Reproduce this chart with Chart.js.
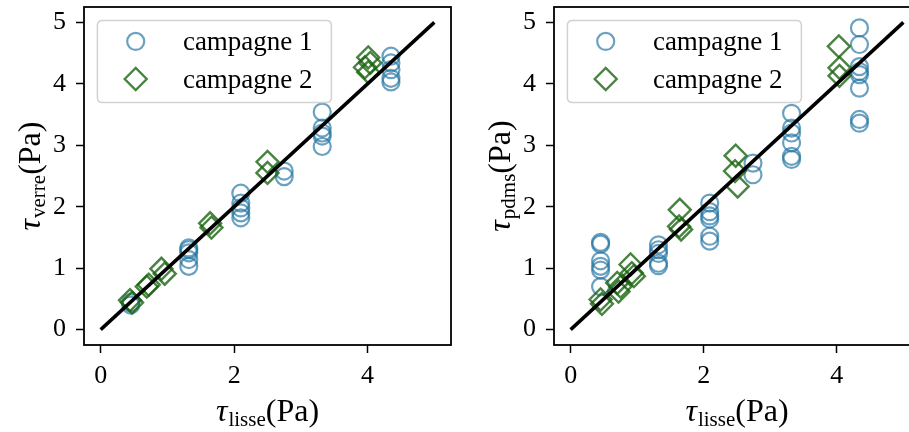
<!DOCTYPE html>
<html><head><meta charset="utf-8">
<script src="https://cdn.jsdelivr.net/npm/chart.js@4"></script>
<style>
html,body{margin:0;padding:0;width:909px;height:432px;overflow:hidden;background:#fff;}
#c1{position:absolute;left:0;top:0;}
#c2{position:absolute;left:460px;top:0;}
</style></head><body>
<canvas id="c1" width="460" height="432"></canvas>
<canvas id="c2" width="460" height="432"></canvas>
<script>
// ---- data ----
const xTicks = [0, 2, 4];
const yTicks = [0, 1, 2, 3, 4, 5];
const seriesNames = ['campagne 1', 'campagne 2'];
const refLineX = [0, 5];
const refLineY = [0, 5];

// left panel: tau_verre vs tau_lisse
const verreC1X = [0.45,0.45, 1.32,1.32,1.32,1.32,1.32, 2.10,2.10,2.10,2.10,2.10, 2.75,2.75, 3.32,3.32,3.32,3.32,3.32, 4.35,4.35,4.35,4.35,4.35];
const verreC1Y = [0.40,0.44, 1.33,1.30,1.25,1.14,1.03, 2.22,2.06,1.98,1.90,1.82, 2.58,2.49, 3.54,3.28,3.20,3.15,2.98, 4.45,4.34,4.23,4.09,4.03];
const verreC2X = [0.44,0.47, 0.69,0.72, 0.91,0.96, 1.64,1.66, 2.50,2.50, 4.01,4.04,3.96,4.01];
const verreC2Y = [0.48,0.44, 0.70,0.73, 0.99,0.91, 1.73,1.66, 2.73,2.55, 4.43,4.34,4.27,4.19];

// right panel: tau_pdms vs tau_lisse
const pdmsC1X = [0.45,0.45,0.45,0.45,0.45,0.45, 1.32,1.32,1.32,1.32,1.32, 2.09,2.09,2.09,2.09,2.09,2.09, 2.74,2.74, 3.32,3.32,3.32,3.32,3.32,3.32, 4.34,4.34,4.34,4.34,4.34,4.34,4.34,4.34];
const pdmsC1Y = [1.42,1.39,1.12,1.03,0.97,0.70, 1.38,1.30,1.24,1.08,1.04, 2.06,1.92,1.85,1.80,1.52,1.44, 2.71,2.52, 3.52,3.28,3.20,3.04,2.82,2.77, 4.91,4.64,4.28,4.20,4.15,3.93,3.42,3.36];
const pdmsC2X = [0.45,0.47, 0.70,0.72,0.75, 0.90,0.92,0.95, 1.64,1.63,1.66, 2.48,2.47,2.51, 4.03,4.04,4.04];
const pdmsC2Y = [0.49,0.42, 0.76,0.62,0.70, 1.06,0.92,0.87, 1.95,1.68,1.63, 2.83,2.58,2.33, 4.61,4.26,4.13];

// ---- styling ----
const C1 = 'rgba(36,117,162,0.68)';
const C2 = 'rgba(28,100,18,0.8)';
const TICKFONT = {family: '"Liberation Serif", serif', size: 26};

const pts = (xs, ys) => xs.map((x, i) => ({x: x, y: ys[i]}));

function mathLabel(ctx, cx, baseline, sub) {
  const it = 'italic 32px "Liberation Serif"', big = '32px "Liberation Serif"', small = '21px "Liberation Serif"';
  ctx.font = it; const w1 = ctx.measureText('τ').width + 1;
  ctx.font = small; const w2 = ctx.measureText(sub).width;
  ctx.font = big; const w3 = ctx.measureText('(Pa)').width;
  let x = cx - (w1 + w2 + w3) / 2;
  ctx.textAlign = 'left'; ctx.textBaseline = 'alphabetic'; ctx.fillStyle = '#000';
  ctx.font = it; ctx.fillText('τ', x, baseline); x += w1;
  ctx.font = small; ctx.fillText(sub, x, baseline + 5); x += w2;
  ctx.font = big; ctx.fillText('(Pa)', x, baseline);
}

const decorPlugin = {
  id: 'decor',
  afterDatasetsDraw(chart, args, opts) {
    const ctx = chart.ctx, a = chart.chartArea;
    ctx.save();
    // frame
    ctx.strokeStyle = '#000'; ctx.lineWidth = 1.8;
    ctx.strokeRect(a.left, a.top, a.right - a.left, a.bottom - a.top);
    // legend box
    const bx = a.left + 13.4, by = a.top + 13.4, bw = 234, bh = 82, r = 5;
    ctx.beginPath();
    ctx.moveTo(bx + r, by); ctx.lineTo(bx + bw - r, by); ctx.quadraticCurveTo(bx + bw, by, bx + bw, by + r);
    ctx.lineTo(bx + bw, by + bh - r); ctx.quadraticCurveTo(bx + bw, by + bh, bx + bw - r, by + bh);
    ctx.lineTo(bx + r, by + bh); ctx.quadraticCurveTo(bx, by + bh, bx, by + bh - r);
    ctx.lineTo(bx, by + r); ctx.quadraticCurveTo(bx, by, bx + r, by);
    ctx.closePath();
    ctx.fillStyle = 'rgba(255,255,255,0.8)'; ctx.fill();
    ctx.strokeStyle = '#d2d2d2'; ctx.lineWidth = 1.5; ctx.stroke();
    const entries = chart.data.datasets.filter(d => d.label).sort((p, q) => p.legendIndex - q.legendIndex);
    entries.forEach((d, i) => {
      const cy = by + 21 + i * 37.6;
      ctx.strokeStyle = d.borderColor; ctx.fillStyle = 'rgba(0,0,0,0)'; ctx.lineWidth = d.borderWidth;
      Chart.helpers.drawPoint(ctx, {pointStyle: d.pointStyle, radius: d.pointRadius, borderWidth: d.borderWidth, rotation: 0}, bx + 38.3, cy);
      ctx.fillStyle = '#000'; ctx.font = '27px "Liberation Serif"'; ctx.textAlign = 'left'; ctx.textBaseline = 'alphabetic';
      ctx.fillText(d.label, bx + 85.5, by + 29.5 + i * 37.6);
    });
    // axis titles
    mathLabel(ctx, (a.left + a.right) / 2, a.bottom + 75.5, opts.xSub);
    ctx.translate(a.left - 44.5, (a.top + a.bottom) / 2);
    ctx.rotate(-Math.PI / 2);
    mathLabel(ctx, 0, 0, opts.ySub);
    ctx.restore();
  }
};

function makeChart(id, c1x, c1y, c2x, c2y, ySub, yWidth, padRight) {
  return new Chart(document.getElementById(id), {
    type: 'scatter',
    data: {
      datasets: [
        {type: 'line', data: pts(refLineX, refLineY), borderColor: '#000', borderWidth: 3.5, pointRadius: 0, showLine: true, fill: false},
        {label: seriesNames[1], legendIndex: 1, data: pts(c2x, c2y), pointStyle: 'rectRot', pointRadius: 11, borderWidth: 2.4, borderColor: C2, backgroundColor: 'rgba(0,0,0,0)'},
        {label: seriesNames[0], legendIndex: 0, data: pts(c1x, c1y), pointStyle: 'circle', pointRadius: 8.5, borderWidth: 2.2, borderColor: C1, backgroundColor: 'rgba(0,0,0,0)'}
      ]
    },
    options: {
      responsive: false, animation: false, events: [],
      layout: {autoPadding: false, padding: {top: 7, right: padRight, left: 0, bottom: 0}},
      plugins: {legend: {display: false}, tooltip: {enabled: false}, decor: {xSub: 'lisse', ySub: ySub}},
      scales: {
        x: {
          type: 'linear', min: -0.25, max: 5.25,
          afterBuildTicks: s => { s.ticks = xTicks.map(v => ({value: v})); },
          afterFit: s => { s.height = 87; s.paddingLeft = 0; s.paddingRight = 0; s.paddingTop = 0; s.paddingBottom = 0; },
          grid: {drawOnChartArea: false, drawTicks: true, tickLength: 8, tickWidth: 1.5, tickColor: '#000'},
          border: {display: false},
          ticks: {color: '#000', font: TICKFONT, padding: 8, maxRotation: 0, callback: v => String(v)}
        },
        y: {
          type: 'linear', min: -0.25, max: 5.25,
          afterBuildTicks: s => { s.ticks = yTicks.map(v => ({value: v})); },
          afterFit: s => { s.width = yWidth; s.paddingLeft = 0; s.paddingRight = 0; s.paddingTop = 0; s.paddingBottom = 0; },
          grid: {drawOnChartArea: false, drawTicks: true, tickLength: 8, tickWidth: 1.5, tickColor: '#000'},
          border: {display: false},
          ticks: {color: '#000', font: TICKFONT, padding: 10, callback: v => String(v)}
        }
      }
    },
    plugins: [decorPlugin]
  });
}

makeChart('c1', verreC1X, verreC1Y, verreC2X, verreC2Y, 'verre', 84, 9);
makeChart('c2', pdmsC1X, pdmsC1Y, pdmsC2X, pdmsC2Y, 'pdms', 94, 0);
</script>
</body></html>
